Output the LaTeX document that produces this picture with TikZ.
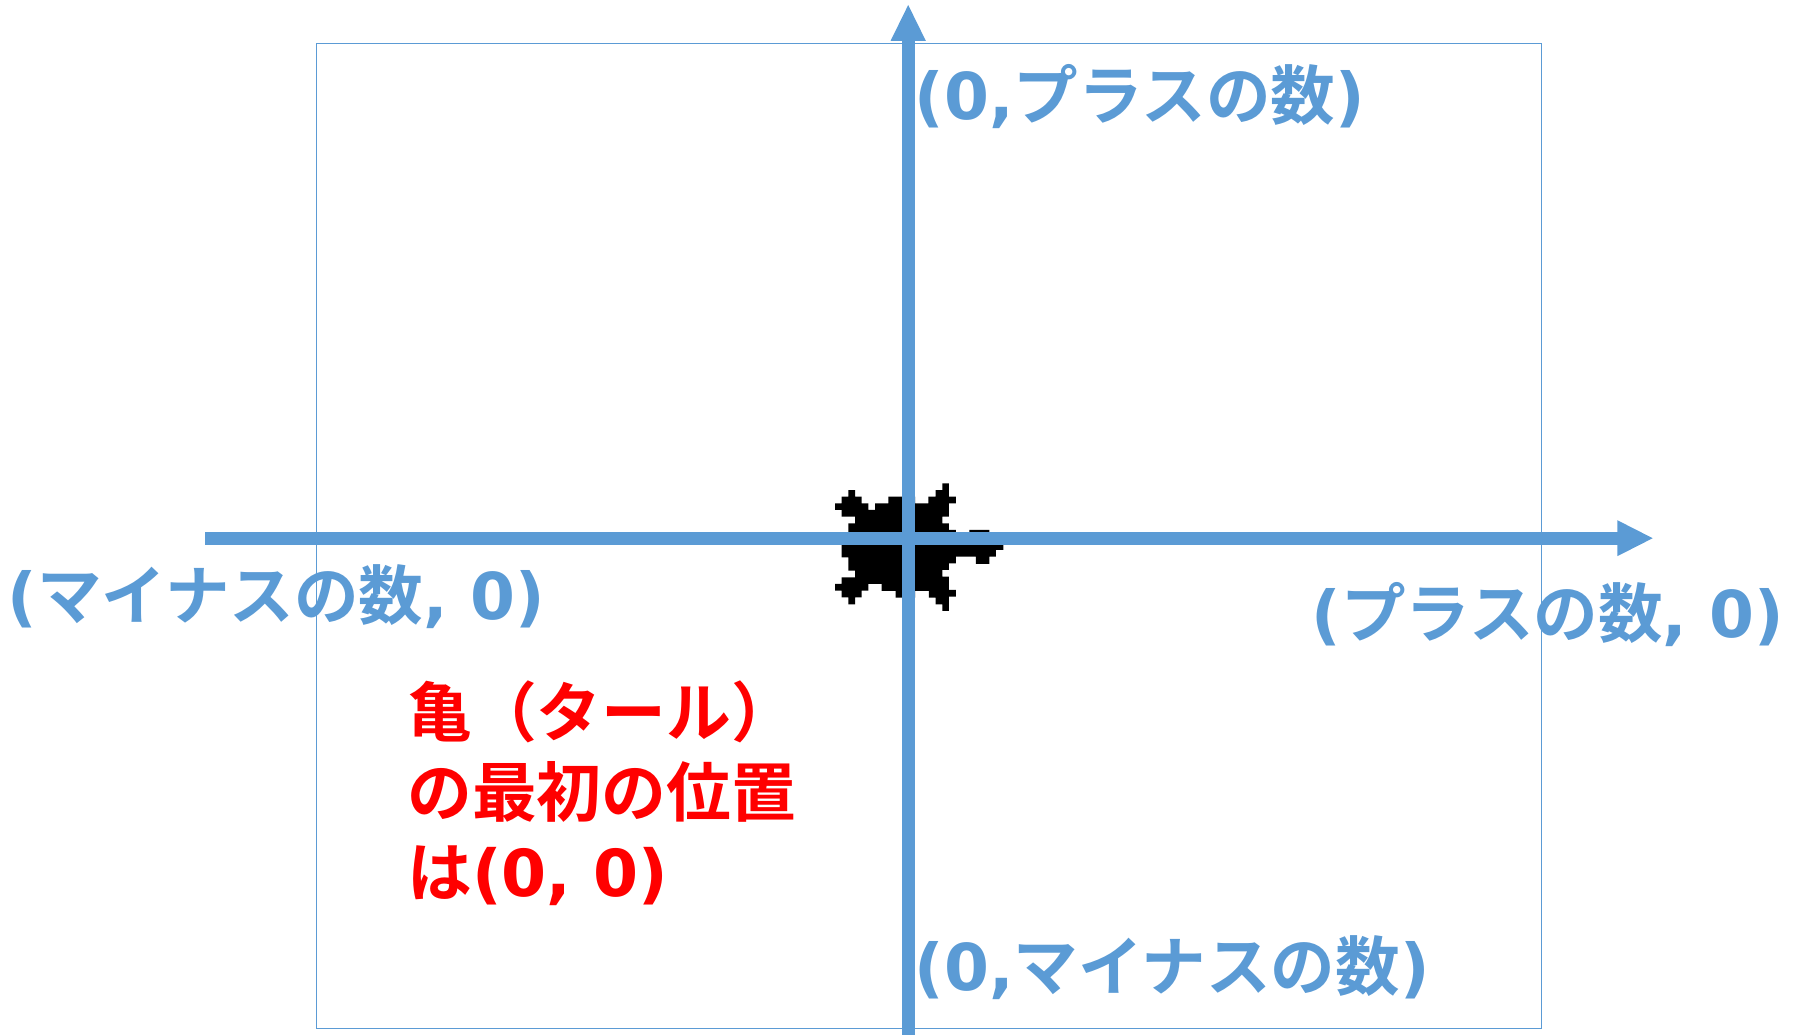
\documentclass[tikz,border=0pt]{standalone}
\usepackage{fontspec}
\setmainfont{Noto Sans CJK JP}[BoldFont={Noto Sans CJK JP Bold}]
\newfontfamily\latinb{DejaVu Sans}[BoldFont={DejaVu Sans Bold}]
\newcommand{\lt}[1]{{\latinb\bfseries #1}}
\definecolor{axisblue}{HTML}{5B9BD5}
\definecolor{labelred}{HTML}{FF0000}
\tikzset{
  axisline/.style={draw=axisblue,line width=12.6pt},
  tipshape/.style={fill=axisblue,draw=none},
  framebox/.style={draw=axisblue,line width=1.4pt},
  axislabel/.style={anchor=west,inner sep=0pt,text=axisblue,font=\fontsize{64.6}{64.6}\selectfont\bfseries},
  notelabel/.style={anchor=north west,inner sep=0pt,text=labelred,align=left,font=\fontsize{64.8}{80}\selectfont\bfseries},
}
\begin{document}
\begin{tikzpicture}[x=1pt,y=-1pt]
\useasboundingbox (0,0) rectangle (1793,1035);
\draw[framebox] (316.7,43.5) rectangle (1541.6,1028.5);
% turtle, zoom-crop coordinates mapped to the full image
\begin{scope}[shift={(810,460)},x=0.3333pt,y=-0.3333pt]
\fill[black] (115,90)--(135,90)--(135,110)--(155,110)--(155,130)--(175,130)--(175,150)--(195,150)--(195,130)--(235,130)--(235,110)--(315,110)--(315,130)--(355,130)--(355,110)--(377,110)--(377,90)--(397,90)--(397,70)--(417,70)--(417,110)--(438,110)--(438,130)--(417,130)--(417,170)--(397,170)--(397,190)--(417,190)--(417,210)--(438,210)--(438,236)--(478,236)--(478,210)--(538,210)--(538,236)--(580,236)--(580,270)--(558,270)--(558,290)--(538,290)--(538,312)--(498,312)--(498,290)--(438,290)--(438,310)--(417,310)--(417,330)--(397,330)--(397,350)--(417,350)--(417,390)--(438,390)--(438,410)--(417,410)--(417,453)--(397,453)--(397,433)--(377,433)--(377,413)--(357,413)--(357,393)--(315,393)--(315,413)--(257,413)--(257,393)--(215,393)--(215,372)--(175,372)--(175,392)--(155,392)--(155,412)--(135,412)--(135,433)--(115,433)--(115,412)--(95,412)--(95,392)--(75,392)--(75,372)--(95,372)--(95,352)--(135,352)--(135,332)--(115,332)--(115,292)--(95,292)--(95,236)--(115,236)--(115,190)--(135,190)--(135,170)--(95,170)--(95,150)--(75,150)--(75,130)--(95,130)--(95,110)--(115,110)--cycle;
\end{scope}
\coordinate (xstart) at (205,538.2);
\coordinate (xend) at (1618,538.2);
\coordinate (ystart) at (908.2,1035);
\coordinate (yend) at (908.2,40);
\draw[axisline] (xstart) -- (xend);
\draw[axisline] (ystart) -- (yend);
\fill[tipshape] (1617.3,520.2) -- (1652.7,538.2) -- (1617.3,556.2) -- cycle;
\fill[tipshape] (890.5,41) -- (908.2,5) -- (925.9,41) -- cycle;
\node[axislabel] (top) at (914.5,97) {\lt{(0,}プラスの数\lt{)}};
\node[axislabel] (left) at (7.5,597) {\lt{(}マイナスの数\lt{, 0)}};
\node[axislabel] (right) at (1311.5,615) {\lt{(}プラスの数\lt{, 0)}};
\node[axislabel] (bottom) at (914.5,968) {\lt{(0,}マイナスの数\lt{)}};
\node[notelabel] (note) at (407,680.5) {亀（タール）\\の最初の位置\\は\lt{(0, 0)}};
\end{tikzpicture}
\end{document}
